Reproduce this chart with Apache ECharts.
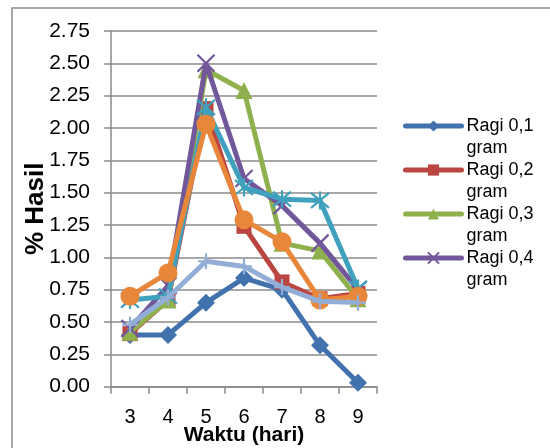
<!DOCTYPE html>
<html>
<head>
<meta charset="utf-8">
<script src="https://cdn.jsdelivr.net/npm/echarts@6/dist/echarts.min.js"></script>
<style>html,body{margin:0;padding:0;background:#fff;}#c{width:550px;height:448px;}</style>
</head>
<body>
<div id="c"></div>
<script>
var categories = ['3', '4', '5', '6', '7', '8', '9'];
var yTicks = [0, 0.25, 0.5, 0.75, 1, 1.25, 1.5, 1.75, 2, 2.25, 2.5, 2.75];
var seriesNames = ['Ragi 0,1 gram', 'Ragi 0,2 gram', 'Ragi 0,3 gram', 'Ragi 0,4 gram', 'Seri 5', 'Seri 6', 'Seri 7'];
var ragi01 = [0.40, 0.40, 0.65, 0.84, 0.75, 0.32, 0.03];
var ragi02 = [0.41, 0.67, 2.15, 1.24, 0.81, 0.68, 0.72];
var ragi03 = [0.42, 0.67, 2.45, 2.29, 1.11, 1.05, 0.68];
var ragi04 = [0.45, 0.78, 2.50, 1.61, 1.40, 1.11, 0.75];
var seri5 = [0.67, 0.70, 2.16, 1.54, 1.45, 1.44, 0.76];
var seri6 = [0.70, 0.88, 2.03, 1.29, 1.12, 0.67, 0.70];
var seri7 = [0.48, 0.69, 0.97, 0.93, 0.77, 0.66, 0.65];

var colors = ['#4172AE', '#BA4541', '#8EB14D', '#72579B', '#3FA1BD', '#E8863A', '#93AED6'];
var X_PATH = 'path://M0,0L10,10M10,0L0,10';
var AST_PATH = 'path://M0,0L10,10M10,0L0,10M5,-1L5,11';
var PLUS_PATH = 'path://M5,0L5,10M0,5L10,5';
var symbols = ['diamond', 'rect', 'triangle', X_PATH, AST_PATH, 'circle', PLUS_PATH];
var sizes = [18, 15, 17, 17, 18, 19, 16];
var dataList = [ragi01, ragi02, ragi03, ragi04, seri5, seri6, seri7];

var series = dataList.map(function (d, i) {
  var stroke = (i === 3 || i === 4 || i === 6);
  return {
    name: seriesNames[i],
    type: 'line',
    data: d,
    symbol: symbols[i],
    symbolSize: sizes[i],
    showAllSymbol: true,
    lineStyle: { color: colors[i], width: 5 },
    itemStyle: { color: colors[i], borderColor: colors[i], borderWidth: stroke ? 2.2 : 0, opacity: 1 },
    emphasis: { disabled: true },
    z: 2 + i
  };
});

var chart = echarts.init(document.getElementById('c'), null, { renderer: 'canvas' });
chart.setOption({
  animation: false,
  textStyle: { fontFamily: '"Liberation Sans", Arial, sans-serif' },
  graphic: [{
    type: 'rect', shape: { x: 12, y: 8, width: 600, height: 500 },
    style: { fill: 'none', stroke: '#8a8a8a', lineWidth: 1.5 }, silent: true, z: -1
  }],
  grid: { left: 111, right: 173, top: 31, bottom: 61.3, containLabel: false, outerBoundsMode: 'none' },
  legend: {
    data: seriesNames.slice(0, 4),
    orient: 'vertical',
    left: 398,
    top: 88,
    itemWidth: 56,
    itemHeight: 14,
    itemGap: -22,
    selectedMode: false,
    lineStyle: { width: 5, cap: 'round' },
    formatter: function (n) { return ' \n' + n.replace(' gram', '\ngram'); },
    textStyle: { fontSize: 18, lineHeight: 22, color: '#000', fontFamily: '"Liberation Sans", Arial, sans-serif' }
  },
  xAxis: {
    type: 'category',
    data: categories,
    boundaryGap: true,
    name: 'Waktu (hari)',
    nameLocation: 'middle',
    nameGap: 38,
    nameMoveOverlap: false,
    nameTextStyle: { fontSize: 21, fontWeight: 'bold', color: '#000' },
    axisLine: { lineStyle: { color: '#8a8a8a', width: 1.5 } },
    axisTick: { show: true, length: 7, lineStyle: { color: '#8a8a8a', width: 1.5 } },
    axisLabel: { fontSize: 20, color: '#000', margin: 21 },
    splitLine: { show: false }
  },
  yAxis: {
    type: 'value',
    min: 0,
    max: 2.75,
    interval: 0.25,
    name: '% Hasil',
    nameLocation: 'middle',
    nameGap: 62,
    nameMoveOverlap: false,
    nameRotate: 90,
    nameTextStyle: { fontSize: 26, fontWeight: 'bold', color: '#000' },
    axisLine: { show: true, lineStyle: { color: '#8a8a8a', width: 1.5 } },
    axisTick: { show: true, length: 7, lineStyle: { color: '#8a8a8a', width: 1.5 } },
    axisLabel: {
      fontSize: 21, color: '#000', margin: 21,
      formatter: function (v) { return v.toFixed(2); }
    },
    splitLine: { show: true, lineStyle: { color: '#8a8a8a', width: 1.5 } }
  },
  series: series
});
</script>
</body>
</html>
